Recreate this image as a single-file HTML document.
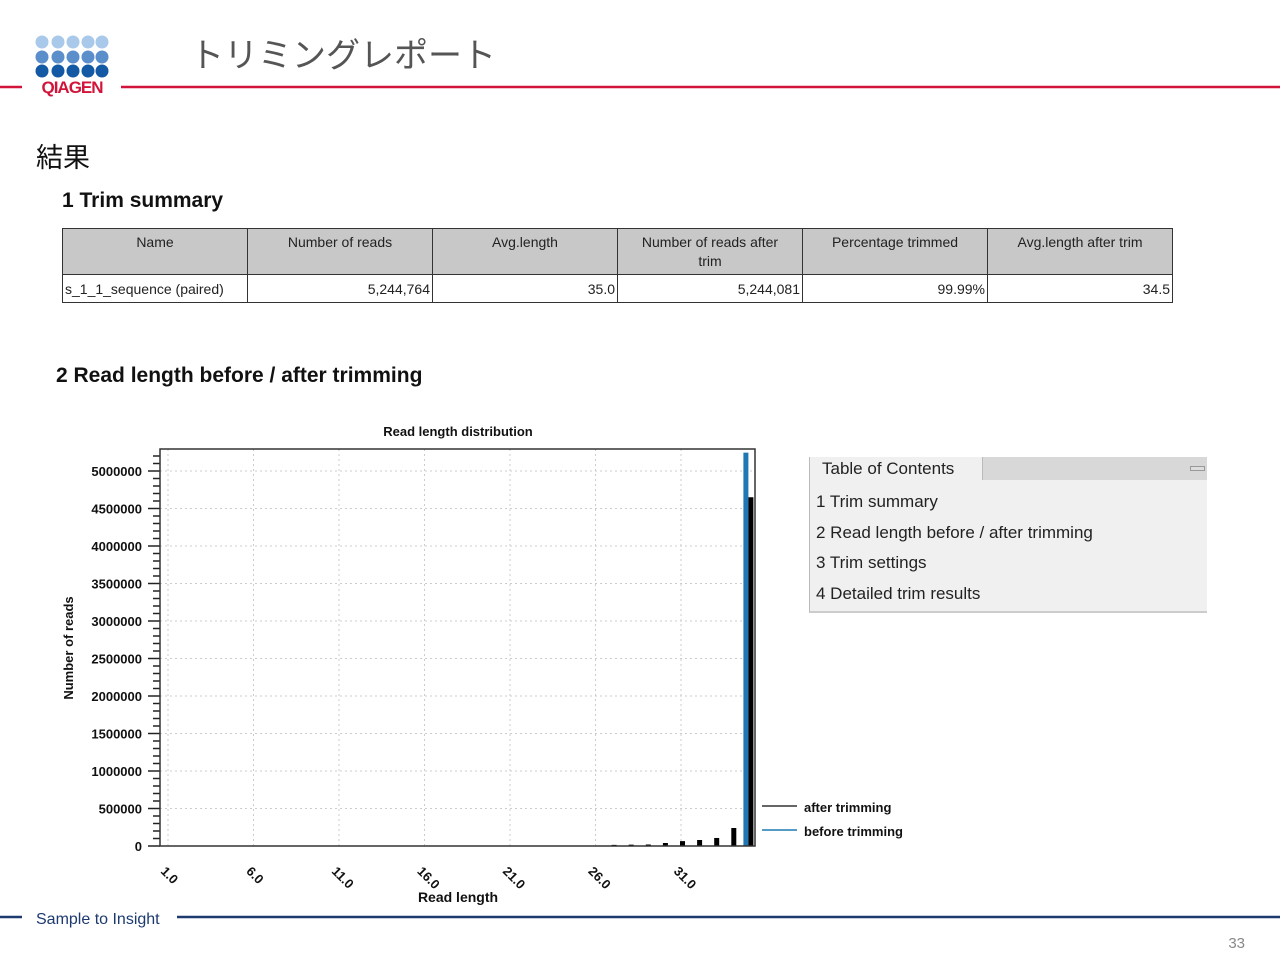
<!DOCTYPE html>
<html><head><meta charset="utf-8">
<style>
body{margin:0;width:1280px;height:960px;background:#fff;position:relative;overflow:hidden;font-family:"Liberation Sans","Noto Sans CJK JP",sans-serif}
.abs{position:absolute}
table{border-collapse:collapse;position:absolute;left:62px;top:228px;font-size:14px;color:#222;table-layout:fixed;width:1111px}
td,th{border:1.5px solid #333;padding:0 2px;overflow:hidden}
th{background:#c8c8c8;font-weight:normal;height:46px;vertical-align:top;padding:4px 14px 0;line-height:19px;box-sizing:border-box}
td{height:27px;text-align:right}
.toc div{position:absolute;left:6px;font-size:17px;color:#222}
</style></head><body>
<svg class="abs" style="left:0;top:0" width="1280" height="110">
<g>
<g fill="#a9c9ea"><circle cx="42" cy="42" r="6.5"/><circle cx="58" cy="42" r="6.5"/><circle cx="73" cy="42" r="6.5"/><circle cx="88" cy="42" r="6.5"/><circle cx="102" cy="42" r="6.5"/></g>
<g fill="#5a8fcc"><circle cx="42" cy="57" r="6.5"/><circle cx="58" cy="57" r="6.5"/><circle cx="73" cy="57" r="6.5"/><circle cx="88" cy="57" r="6.5"/><circle cx="102" cy="57" r="6.5"/></g>
<g fill="#1459a3"><circle cx="42" cy="71" r="6.5"/><circle cx="58" cy="71" r="6.5"/><circle cx="73" cy="71" r="6.5"/><circle cx="88" cy="71" r="6.5"/><circle cx="102" cy="71" r="6.5"/></g>
<text x="72" y="93" text-anchor="middle" font-size="17" font-weight="bold" fill="#d2143a" letter-spacing="-1">QIAGEN</text>
</g>
<line x1="0" y1="87" x2="22" y2="87" stroke="#d2143a" stroke-width="2.5"/>
<line x1="121" y1="87" x2="1280" y2="87" stroke="#d2143a" stroke-width="2.5"/>
<text x="190" y="67" font-size="34" fill="#555">トリミングレポート</text>
</svg>
<div class="abs" style="left:36px;top:136px;font-size:27px;color:#111">結果</div>
<div class="abs" style="left:62px;top:189px;font-size:21px;font-weight:bold;color:#111">1 Trim summary</div>
<table>
<tr><th>Name</th><th>Number of reads</th><th>Avg.length</th><th>Number of reads after trim</th><th>Percentage trimmed</th><th>Avg.length after trim</th></tr>
<tr><td style="text-align:left">s_1_1_sequence (paired)</td><td>5,244,764</td><td>35.0</td><td>5,244,081</td><td>99.99%</td><td>34.5</td></tr>
</table>
<div class="abs" style="left:56px;top:364px;font-size:21px;font-weight:bold;color:#111">2 Read length before / after trimming</div>

<svg id="chart" class="abs" style="left:0;top:410px" width="1280" height="500"></svg>

<div class="abs toc" style="left:809px;top:457px;width:397px;height:154px;background:#f0f0f0;border-left:1px solid #bbb;border-bottom:2px solid #ccc">
<div style="left:0;top:0;width:160px;height:23px;background:#f0f0f0;border-right:1px solid #bbb;padding-left:12px;font-size:17px;line-height:24px">Table of Contents</div>
<div style="left:173px;top:0;width:224px;height:23px;background:#d8d8d8;font-size:0"></div>
<div style="left:380px;top:9px;width:13px;height:3px;border:1px solid #999;background:#ddd;font-size:0"></div>
<div style="top:35px">1 Trim summary</div>
<div style="top:66px">2 Read length before / after trimming</div>
<div style="top:96px">3 Trim settings</div>
<div style="top:127px">4 Detailed trim results</div>
</div>

<svg class="abs" style="left:0;top:900px" width="1280" height="60">
<line x1="0" y1="17" x2="22" y2="17" stroke="#1c3a70" stroke-width="2.5"/>
<line x1="177" y1="17" x2="1280" y2="17" stroke="#1c3a70" stroke-width="2.5"/>
<text x="36" y="24" font-size="16" fill="#1c3a70">Sample to Insight</text>
<text x="1245" y="48" font-size="15" fill="#888" text-anchor="end">33</text>
</svg>

<script>
const lengths=[1,2,3,4,5,6,7,8,9,10,11,12,13,14,15,16,17,18,19,20,21,22,23,24,25,26,27,28,29,30,31,32,33,34,35];
const afterTrim=[0,0,0,0,0,0,0,0,0,0,0,0,0,0,0,0,0,0,0,0,0,0,0,0,0,0,15000,18000,20000,40000,65000,80000,107000,240000,4650000];
const beforeTrim=[0,0,0,0,0,0,0,0,0,0,0,0,0,0,0,0,0,0,0,0,0,0,0,0,0,0,0,0,0,0,0,0,0,0,5244764];
const yTicks=[0,500000,1000000,1500000,2000000,2500000,3000000,3500000,4000000,4500000,5000000];
const xTickLabels=["1.0","6.0","11.0","16.0","21.0","26.0","31.0"];
const xTickVals=[1,6,11,16,21,26,31];

const svg=document.getElementById('chart');
const NS='http://www.w3.org/2000/svg';
const T=410;
const L=160,R=755,TOP=449-T,BOT=846-T;
function y(v){return BOT-(v/5000000)*(BOT-(471-T));}
function x(l){return 168+(l-1)*17.1;}
function add(tag,attrs,text){const e=document.createElementNS(NS,tag);for(const k in attrs)e.setAttribute(k,attrs[k]);if(text!==undefined)e.textContent=text;svg.appendChild(e);return e;}

let e=add('text',{x:458,y:26,'text-anchor':'middle','font-size':13,'font-weight':'bold',fill:'#111'},'Read length distribution');


yTicks.forEach(v=>{if(v>0){const g=add('line',{x1:L,x2:R,y1:y(v),y2:y(v),stroke:'#ccc','stroke-dasharray':'2,3'});

}});
xTickVals.forEach(v=>{const g=add('line',{x1:x(v),x2:x(v),y1:TOP,y2:BOT,stroke:'#ccc','stroke-dasharray':'2,3'});

});
for(let v=0;v<=5300000;v+=100000){if(y(v)<TOP)break;const major=v%500000===0;add('line',{x1:major?148:153,x2:L,y1:y(v),y2:y(v),stroke:'#222','stroke-width':1.5});}
yTicks.forEach(v=>{const t=add('text',{x:142,y:y(v)+5,'text-anchor':'end','font-size':13,'font-weight':'bold',fill:'#111'},String(v));

});
xTickVals.forEach((v,i)=>{const t=add('text',{x:x(v)-8,y:462,'font-size':13,'font-weight':'bold',fill:'#111',transform:`rotate(45 ${x(v)-8} 462)`},xTickLabels[i]);

});
lengths.forEach((l,i)=>{
 if(beforeTrim[i]>0){const b=add('rect',{x:x(l)-6,y:y(beforeTrim[i]),width:5,height:BOT-y(beforeTrim[i]),fill:'#1f78b4'});
 
 }
 if(afterTrim[i]>0){const b=add('rect',{x:x(l)-1,y:y(afterTrim[i]),width:5,height:BOT-y(afterTrim[i]),fill:'#000'});
 
 }
});
const fr=add('rect',{x:L,y:TOP,width:R-L,height:BOT-TOP,fill:'none',stroke:'#333','stroke-width':1.5});


e=add('text',{x:458,y:492,'text-anchor':'middle','font-size':14,'font-weight':'bold',fill:'#111'},'Read length');


e=add('text',{x:73,y:648-T,'text-anchor':'middle','font-size':13,'font-weight':'bold',fill:'#111',transform:`rotate(-90 73 ${648-T})`},'Number of reads');


add('line',{x1:762,x2:797,y1:396,y2:396,stroke:'#333','stroke-width':1.5});
e=add('text',{x:804,y:402,'font-size':13,'font-weight':'bold',fill:'#111'},'after trimming');


add('line',{x1:762,x2:797,y1:420,y2:420,stroke:'#1f78b4','stroke-width':1.5});
e=add('text',{x:804,y:426,'font-size':13,'font-weight':'bold',fill:'#111'},'before trimming');


</script>
</body></html>
